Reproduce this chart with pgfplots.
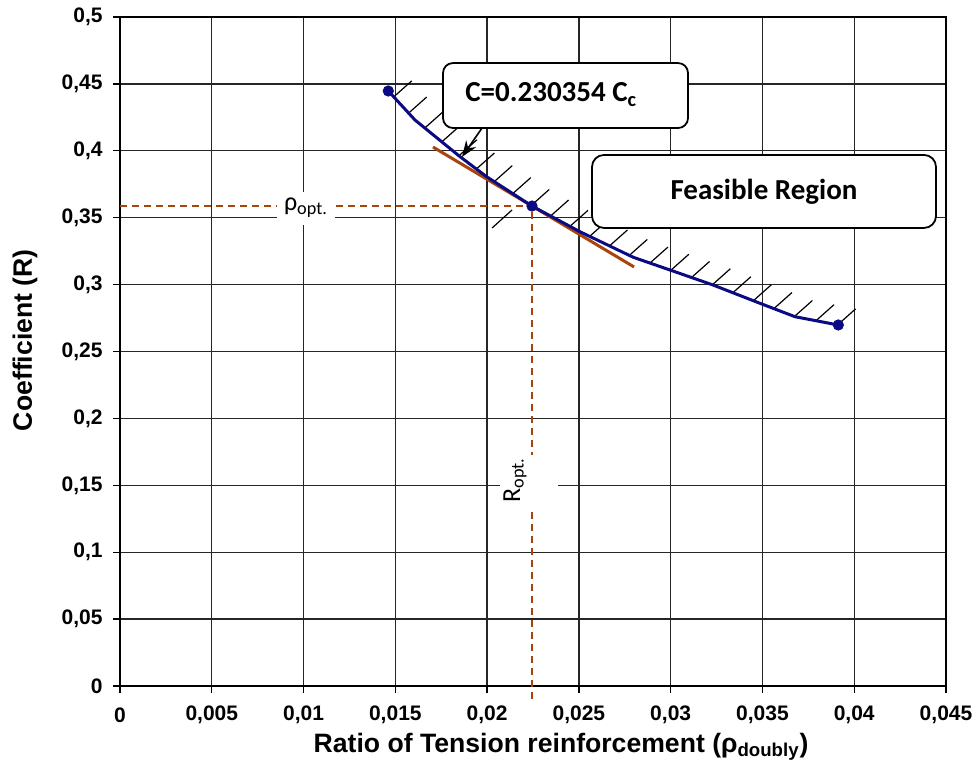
\documentclass[border=0pt]{standalone}
\usepackage{pgfplots}
\pgfplotsset{compat=1.18}
\usepackage{fontspec}
\setmainfont{Liberation Sans}
\newfontfamily\calibri{Carlito}
\usetikzlibrary{arrows.meta}
\definecolor{navy}{RGB}{10,10,130}
\definecolor{rust}{RGB}{170,68,14}

\begin{document}
\begin{tikzpicture}
\begin{axis}[
  scale only axis, width=413pt, height=334.5pt,
  xmin=0, xmax=0.045, ymin=0, ymax=0.5,
  scaled ticks=false,
  xtick={0,0.005,0.01,0.015,0.02,0.025,0.03,0.035,0.04,0.045},
  xticklabels={0,{0,005},{0,01},{0,015},{0,02},{0,025},{0,03},{0,035},{0,04},{0,045}},
  ytick={0,0.05,0.1,0.15,0.2,0.25,0.3,0.35,0.4,0.45,0.5},
  yticklabels={0,{0,05},{0,1},{0,15},{0,2},{0,25},{0,3},{0,35},{0,4},{0,45},{0,5}},
  grid=major,
  major grid style={line width=0.65pt, color=black!85},
  axis line style={line width=0.65pt, black},
  tick style={line width=0.65pt, black},
  tick align=outside, major tick length=3.5pt,
  xtick pos=left, ytick pos=left,
  ticklabel style={font=\bfseries\fontsize{10.5}{12}\selectfont},
  xticklabel style={anchor=center, yshift=-11pt},
  yticklabel style={anchor=east, inner sep=0pt, xshift=-5pt},
  xlabel={Ratio of Tension reinforcement (ρ\textsubscript{doubly})},
  ylabel={Coefficient (R)},
  label style={font=\bfseries\fontsize{13.3}{15}\selectfont},
  xlabel style={at={(axis description cs:0.534,-0.091)}, anchor=center},
  ylabel style={at={(axis description cs:-0.115,0.517)}, anchor=center},
  clip=false,
]
% hatching along the curve (short 45-degree strokes)
\addplot[black, line width=0.6pt, quiver={u=0.000981, v=0.011958}, mark=none] coordinates {
 (0.014911,0.44028) (0.015723,0.42817) (0.016605,0.41704) (0.017531,0.40665)
 (0.018463,0.39626) (0.019416,0.38640) (0.020392,0.37698) (0.021399,0.36801)
 (0.022402,0.35912) (0.023459,0.35127) (0.024516,0.34357) (0.025589,0.33610)
 (0.026668,0.32892) (0.027746,0.32182) (0.028869,0.31607) (0.030007,0.31069)
 (0.031135,0.30530) (0.032268,0.29985) (0.033390,0.29394) (0.034507,0.28797)
 (0.035624,0.28206) (0.036741,0.27616) (0.037917,0.27302) (0.039094,0.26988)};
% stray hatch stroke
\addplot[black, line width=0.6pt] coordinates {(0.02027,0.3423) (0.02136,0.3558)};
% dashed optimum lines
\addplot[rust, line width=0.8pt, dash pattern=on 3.5pt off 2.5pt] coordinates {(0,0.3587) (0.022445,0.3587)};
\addplot[rust, line width=0.8pt, dash pattern=on 3.5pt off 2.5pt] coordinates {(0.022445,-0.01) (0.022445,0.3587)};
% tangent line
\addplot[rust, line width=1.5pt] coordinates {(0.017052,0.4028) (0.028002,0.3132)};
% curve
\addplot[navy, line width=1.5pt] coordinates {(0.014617,0.4447) (0.016071,0.4230) (0.018523,0.3956) (0.019977,0.3806) (0.022445,0.3587) (0.025060,0.3395) (0.027964,0.3204) (0.029964,0.3109) (0.032306,0.2997) (0.034867,0.2860) (0.036773,0.2760) (0.039133,0.2698)};
\addplot[only marks, mark=*, mark size=2.6pt, navy] coordinates {(0.014617,0.4447) (0.022445,0.3587) (0.039133,0.2698)};
% labels on dashed lines
\fill[white] (axis cs:0.008553,0.3445) rectangle (axis cs:0.011713,0.3692);
\node[inner sep=0pt] at (axis cs:0.010133,0.3575) {\calibri\fontsize{13}{15}\selectfont ρ\textsubscript{opt.}};
\fill[white] (axis cs:0.020702,0.1338) rectangle (axis cs:0.023862,0.1726);
\node[inner sep=0pt, rotate=90] at (axis cs:0.021519,0.154) {\calibri\fontsize{13}{15}\selectfont R\textsubscript{opt.}};
% callout boxes
\draw[-{Stealth[length=8pt,width=6pt]}, line width=0.8pt] (axis cs:0.019722,0.4170) -- (axis cs:0.018632,0.3954);
\node[draw, line width=0.9pt, fill=white, rounded corners=5pt, minimum width=122.5pt, minimum height=32.5pt] at (axis cs:0.024271,0.4413) {};
\node[anchor=west, inner sep=0pt] at (axis cs:0.018795,0.4420) {\calibri\bfseries\fontsize{14.5}{16}\selectfont C=0.230354 C\textsubscript{c}};
\node[draw, line width=0.9pt, fill=white, rounded corners=6pt, minimum width=172pt, minimum height=36.5pt] at (axis cs:0.035085,0.3696) {\calibri\bfseries\fontsize{14.5}{16}\selectfont Feasible Region};
\end{axis}
\pgfresetboundingbox
\path[use as bounding box] ([shift={(-60pt,-43pt)}]current axis.south west) rectangle ([shift={(15pt,8.5pt)}]current axis.north east);
\end{tikzpicture}
\end{document}
